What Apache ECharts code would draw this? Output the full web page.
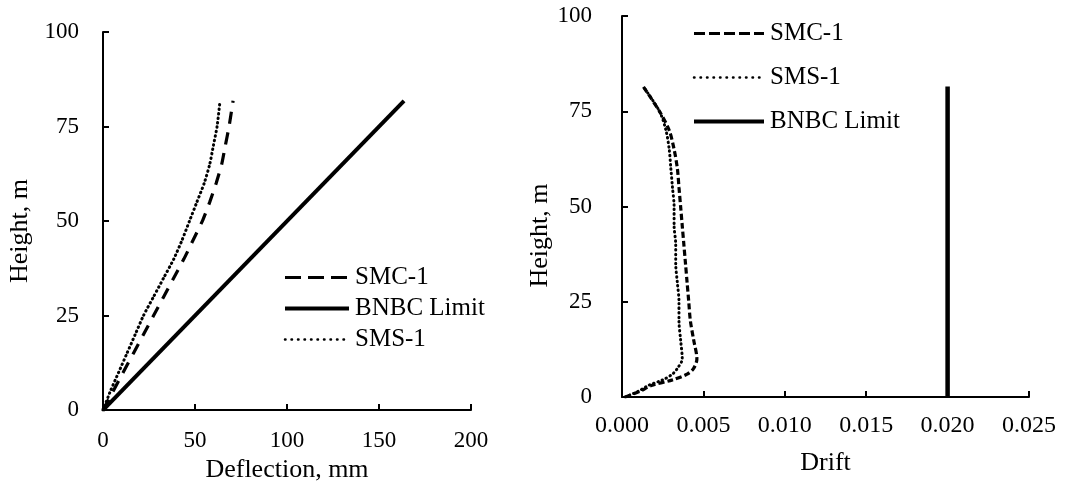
<!DOCTYPE html>
<html>
<head>
<meta charset="utf-8">
<script src="https://cdn.jsdelivr.net/npm/echarts@6/dist/echarts.min.js"></script>
<style>
  html, body { margin: 0; padding: 0; background: #fff; }
  #main { width: 1065px; height: 488px; }
</style>
</head>
<body>
<div id="main"></div>
<script>
    var FONT = 'Liberation Serif, Times New Roman, serif';

    // 左图：挠度 (mm) vs 高度 (m)
    var defHeight = [0, 5, 10, 15, 20, 25, 30, 35, 40, 45, 50, 55, 60, 65, 70, 75, 81.8];
    var defSMC = [0, 5.5, 11, 16.5, 22, 27.5, 33, 38.5, 44, 49, 54, 58, 61.5, 64.5, 66.5, 68.5, 70.7];
    var defSMS = [0, 4, 8.5, 13, 17.5, 22, 27.5, 33, 38.5, 43, 47, 51, 55, 58, 60, 62, 63.6];
    var limitDefHeight = [0, 81.8];
    var limitDef = [0, 163.6];

    // 右图：层间位移角 vs 高度 (m)
    var driftHeight = [0, 1.5, 3, 4.5, 6, 7.5, 10, 15, 20, 25, 30, 35, 40, 45, 50, 55, 60, 65, 70, 75, 81.5];
    var driftSMC = [0.0002, 0.0011, 0.0018, 0.0031, 0.0040, 0.0044, 0.0046, 0.0044, 0.0042, 0.0041, 0.0040, 0.0039, 0.0038, 0.0037, 0.0036, 0.0035, 0.0034, 0.0032, 0.0029, 0.0023, 0.0013];
    var driftSMS = [0.0002, 0.0010, 0.0016, 0.0025, 0.0031, 0.0034, 0.0037, 0.0036, 0.0035, 0.0035, 0.0034, 0.0033, 0.0033, 0.0032, 0.0032, 0.0031, 0.0030, 0.0029, 0.0027, 0.0023, 0.0013];
    var limitDriftHeight = [0, 81.5];
    var limitDrift = [0.020, 0.020];

    var defTicks = [0, 50, 100, 150, 200];
    var driftTicks = [0, 0.005, 0.010, 0.015, 0.020, 0.025];
    var heightTicks = [0, 25, 50, 75, 100];

    function pairs(xs, ys) {
        var out = [];
        for (var i = 0; i < xs.length; i++) {
            out.push([xs[i], ys[i]]);
        }
        return out;
    }

    function valueAxis(gridIndex, ticks, fontSize, margin, name, nameGap, extra) {
        var axis = {
            type: 'value',
            gridIndex: gridIndex,
            min: ticks[0],
            max: ticks[ticks.length - 1],
            interval: ticks[1] - ticks[0],
            name: name,
            nameLocation: 'middle',
            nameGap: nameGap,
            nameTextStyle: { fontFamily: FONT, fontSize: 26, color: '#000' },
            axisLine: { show: true, lineStyle: { color: '#000', width: 2 } },
            axisTick: { show: true, inside: true, length: 6, lineStyle: { color: '#000', width: 2 } },
            axisLabel: { fontFamily: FONT, fontSize: fontSize, color: '#000', margin: margin },
            splitLine: { show: false }
        };
        for (var k in extra) {
            axis[k] = extra[k];
        }
        return axis;
    }

    // 图例里不画圆点，只保留线型
    function legendBox(left, top, itemWidth, itemGap, data) {
        return {
            orient: 'vertical',
            left: left,
            top: top,
            padding: 0,
            itemWidth: itemWidth,
            itemHeight: 12,
            itemGap: itemGap,
            itemStyle: { opacity: 0 },
            textStyle: { fontFamily: FONT, fontSize: 25, color: '#000', padding: [0, 0, 0, 1] },
            data: data
        };
    }

    var chart = echarts.init(document.getElementById('main'));

    var dotted = { color: '#000', width: 3, type: [0.5, 4], cap: 'round' };

    var option = {
        backgroundColor: '#fff',
        animation: false,
        grid: [
            { left: 103, top: 32, width: 368, height: 384 },
            { left: 622, top: 16, width: 407, height: 381 }
        ],
        xAxis: [
            valueAxis(0, defTicks, 23, 19, 'Deflection, mm', 43, {}),
            valueAxis(1, driftTicks, 24, 17, 'Drift', 53, {
                axisLabel: {
                    fontFamily: FONT, fontSize: 24, color: '#000', margin: 17,
                    formatter: function(v) { return v.toFixed(3); }
                }
            })
        ],
        yAxis: [
            valueAxis(0, heightTicks, 23, 24, 'Height, m', 70, {
                nameTextStyle: { fontFamily: FONT, fontSize: 26, color: '#000', padding: [0, 20, 0, 0] }
            }),
            valueAxis(1, heightTicks, 23, 30, 'Height, m', 64, {
                nameTextStyle: { fontFamily: FONT, fontSize: 26, color: '#000', padding: [0, 58, 0, 0] }
            })
        ],
        legend: [
            legendBox(283, 265, 64, 6, [
                { name: 'SMC-1', lineStyle: { type: [16, 7], width: 3 } },
                { name: 'BNBC Limit', lineStyle: { type: 'solid', width: 4 } },
                { name: 'SMS-1', lineStyle: { type: [0.5, 6], width: 2.5, cap: 'round' } }
            ]),
            legendBox(692, 21, 70, 19, [
                { name: 'SMC-1', lineStyle: { type: [11, 4], width: 3 } },
                { name: 'SMS-1', lineStyle: { type: [0.5, 6], width: 2.5, cap: 'round' } },
                { name: 'BNBC Limit', lineStyle: { type: 'solid', width: 4 } }
            ])
        ],
        series: [
            {
                name: 'SMC-1', type: 'line', xAxisIndex: 0, yAxisIndex: 0,
                symbol: 'none', smooth: 0.2, color: '#000',
                lineStyle: { color: '#000', width: 3.2, type: [12, 9] },
                data: pairs(defSMC, defHeight)
            },
            {
                name: 'BNBC Limit', type: 'line', xAxisIndex: 0, yAxisIndex: 0,
                symbol: 'none', color: '#000',
                lineStyle: { color: '#000', width: 4, type: 'solid' },
                data: pairs(limitDef, limitDefHeight)
            },
            {
                name: 'SMS-1', type: 'line', xAxisIndex: 0, yAxisIndex: 0,
                symbol: 'none', smooth: 0.2, color: '#000',
                lineStyle: dotted,
                data: pairs(defSMS, defHeight)
            },
            {
                name: 'SMC-1', type: 'line', xAxisIndex: 1, yAxisIndex: 1,
                symbol: 'none', smooth: 0.3, color: '#000',
                lineStyle: { color: '#000', width: 3.2, type: [6, 3] },
                data: pairs(driftSMC, driftHeight)
            },
            {
                name: 'SMS-1', type: 'line', xAxisIndex: 1, yAxisIndex: 1,
                symbol: 'none', smooth: 0.3, color: '#000',
                lineStyle: dotted,
                data: pairs(driftSMS, driftHeight)
            },
            {
                name: 'BNBC Limit', type: 'line', xAxisIndex: 1, yAxisIndex: 1,
                symbol: 'none', color: '#000',
                lineStyle: { color: '#000', width: 4.5, type: 'solid' },
                data: pairs(limitDrift, limitDriftHeight)
            }
        ]
    };

    chart.setOption(option);
</script>
</body>
</html>
